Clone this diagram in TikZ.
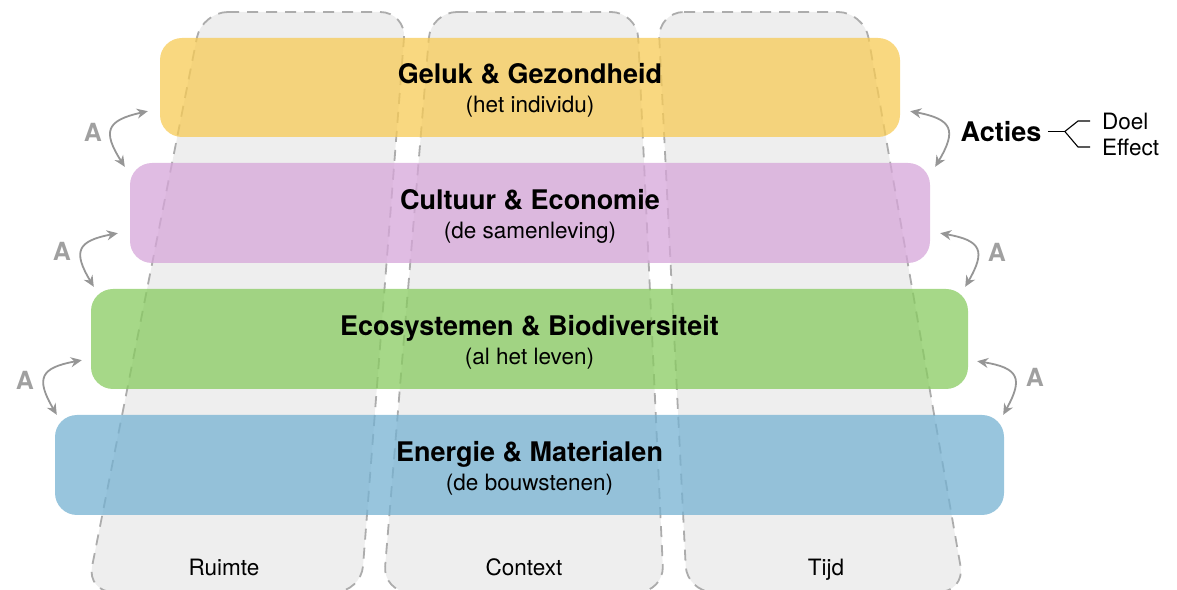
\documentclass[tikz,border=0pt]{standalone}
\usepackage{fontspec}
\setmainfont{TeX Gyre Heros}
\usetikzlibrary{positioning,arrows.meta}
\definecolor{geel}{RGB}{247,203,86}
\definecolor{paars}{RGB}{214,166,217}
\definecolor{groen}{RGB}{136,203,96}
\definecolor{blauw}{RGB}{118,178,210}
\definecolor{kolomgrijs}{RGB}{238,238,238}
\definecolor{randgrijs}{RGB}{172,172,172}
\definecolor{pijlgrijs}{RGB}{150,150,150}
\definecolor{agrijs}{RGB}{160,160,160}

\begin{document}
\begin{tikzpicture}[x=1pt,y=1pt,
kolom/.style={fill=kolomgrijs,draw=randgrijs,line width=1.8pt,dash pattern=on 11pt off 8pt,rounded corners=26pt},
kolomtekst/.style={font=\fontsize{22.5}{26}\selectfont,text height=16.5pt,text depth=0pt},
laag/.style={rectangle,rounded corners=22pt,fill opacity=.75,text opacity=1,minimum height=100pt,align=center,
    text height=51pt,text depth=0pt,font=\fontsize{22.5}{29}\selectfont},
pijl/.style={draw=pijlgrijs,line width=1.8pt,arrows={Stealth[length=11pt,width=10pt]-Stealth[length=11pt,width=10pt]},looseness=1.8},
aletter/.style={text=agrijs,font=\fontsize{25}{30}\selectfont\bfseries},
tak/.style={draw=black,line width=1.1pt},
klein/.style={font=\fontsize{22.5}{26}\selectfont,anchor=west,inner sep=0pt}]
\useasboundingbox (0,0) rectangle (1177,589);

\draw[kolom] (202,577) -- (406,577) -- (361,-3) -- (87,-3) -- cycle;
\draw[kolom] (431,577) -- (637,577) -- (664,-3) -- (383,-3) -- cycle;
\draw[kolom] (658,577) -- (864,577) -- (965,-3) -- (687,-3) -- cycle;
\node[kolomtekst] (ruimte) at (224,22) {Ruimte};
\node[kolomtekst] (context) at (524,22) {Context};
\node[kolomtekst] (tijd) at (826,22) {Tijd};

\node (geluk) [laag,fill=geel,minimum width=740pt,minimum height=99pt] at (530,501.5)
    {{\fontsize{27}{29}\selectfont\bfseries Geluk \& Gezondheid}\\(het individu)};
\node (cultuur) [laag,fill=paars,minimum width=800pt] at (530,376)
    {{\fontsize{27}{29}\selectfont\bfseries Cultuur \& Economie}\\(de samenleving)};
\node (eco) [laag,fill=groen,minimum width=877pt] at (529.5,250)
    {{\fontsize{27}{29}\selectfont\bfseries Ecosystemen \& Biodiversiteit}\\(al het leven)};
\node (energie) [laag,fill=blauw,minimum width=949pt] at (529.5,124)
    {{\fontsize{27}{29}\selectfont\bfseries Energie \& Materialen}\\(de bouwstenen)};

\draw[pijl] ([shift={(-12,26)}]geluk.south west) to[bend right=55] ([shift={(-5,-4)}]cultuur.north west);
\draw[pijl] ([shift={(-12,30)}]cultuur.south west) to[bend right=55] ([shift={(3,2)}]eco.north west);
\draw[pijl] ([shift={(-9,29)}]eco.south west) to[bend right=55] ([shift={(2,0)}]energie.north west);
\draw[pijl] ([shift={(10,26)}]geluk.south east) to[bend left=55] ([shift={(5,-4)}]cultuur.north east);
\draw[pijl] ([shift={(10,30)}]cultuur.south east) to[bend left=55] ([shift={(-3,2)}]eco.north east);
\draw[pijl] ([shift={(9,28)}]eco.south east) to[bend left=55] ([shift={(-1,0)}]energie.north east);

\node[aletter] (al1) at (93,457) {A};
\node[aletter] (al2) at (62,338) {A};
\node[aletter] (al3) at (25,209) {A};
\node[aletter] (ar2) at (997,337) {A};
\node[aletter] (ar3) at (1035,212) {A};

\node (acties) [font=\fontsize{27}{30}\selectfont\bfseries] at (1001,457.5) {Acties};
\node (doel) [klein] at (1102,468) {Doel};
\node (effect) [klein] at (1102,442) {Effect};
\draw[tak] ([xshift=3]acties.east) -- ++(17,0) coordinate (splits);
\draw[tak] (splits) -- ([xshift=-24]doel.west) -- ([xshift=-12]doel.west);
\draw[tak] (splits) -- ([xshift=-24]effect.west) -- ([xshift=-12]effect.west);
\end{tikzpicture}
\end{document}
